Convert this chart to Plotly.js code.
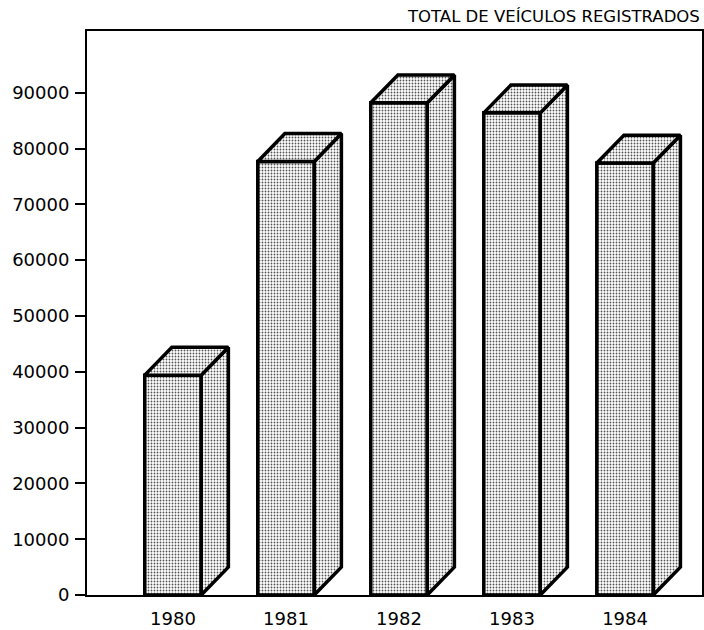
<!DOCTYPE html>
<html>
<head>
<meta charset="utf-8">
<script src="https://cdn.plot.ly/plotly-3.0.1.min.js"></script>
<style>html,body{margin:0;padding:0;background:#fff;}#chart{width:704px;height:630px;}</style>
</head>
<body>
<div id="chart"></div>
<script>
// Data
const years = ['1980', '1981', '1982', '1983', '1984'];
const vehicles = [39400, 77700, 88200, 86400, 77400];
const yTickVals = [0, 10000, 20000, 30000, 40000, 50000, 60000, 70000, 80000, 90000];
const yTickText = ['0', '10000', '20000', '30000', '40000', '50000', '60000', '70000', '80000', '90000'];
const chartTitle = 'TOTAL DE VEÍCULOS REGISTRADOS';

// Styling / 3D depth (axis units)
const barW = 0.5;
const depthX = 0.24;
const depthY = 5000;
const pos = years.map((_, i) => i);

const pattern = {shape: '.', fgcolor: '#555', bgcolor: '#fff', size: 3, solidity: 0.3};

const sideX = [], sideY = [], topX = [], topY = [];
pos.forEach((p, i) => {
  const v = vehicles[i];
  const xl = p - barW / 2, xr = p + barW / 2;
  sideX.push(xr, xr + depthX, xr + depthX, xr, xr, null);
  sideY.push(0, depthY, v + depthY, v, 0, null);
  topX.push(xl, xl + depthX, xr + depthX, xr, xl, null);
  topY.push(v, v + depthY, v + depthY, v, v, null);
});

const traces = [
  {
    type: 'bar', x: pos, y: vehicles, width: barW,
    marker: {color: '#fff', pattern: pattern, line: {color: '#000', width: 3.5}},
    hoverinfo: 'skip', showlegend: false
  },
  {
    type: 'scatter', mode: 'lines', x: sideX, y: sideY, fill: 'toself',
    fillcolor: '#fff', fillpattern: pattern,
    line: {color: '#000', width: 3.5}, connectgaps: false,
    hoverinfo: 'skip', showlegend: false
  },
  {
    type: 'scatter', mode: 'lines', x: topX, y: topY, fill: 'toself',
    fillcolor: '#fff', fillpattern: pattern,
    line: {color: '#000', width: 3.5}, connectgaps: false,
    hoverinfo: 'skip', showlegend: false
  }
];

const layout = {
  width: 704, height: 630,
  margin: {l: 87, r: 2, t: 31, b: 35, pad: 0},
  paper_bgcolor: '#fff', plot_bgcolor: '#fff',
  font: {family: 'DejaVu Sans, sans-serif', size: 18, color: '#000'},
  showlegend: false,
  xaxis: {
    range: [-0.761, 4.681], tickvals: pos, ticktext: years,
    showgrid: false, zeroline: false, showline: true, mirror: true,
    linecolor: '#000', linewidth: 2, ticks: '', ticklabelstandoff: 6,
    fixedrange: true
  },
  yaxis: {
    range: [0, 101070], tickvals: yTickVals, ticktext: yTickText,
    showgrid: false, zeroline: false, showline: true, mirror: true,
    linecolor: '#000', linewidth: 2, ticks: 'outside', ticklen: 10,
    tickwidth: 2, tickcolor: '#000', ticklabelstandoff: 2,
    fixedrange: true
  },
  annotations: [{
    text: chartTitle, xref: 'paper', yref: 'paper', x: 1, y: 1,
    xanchor: 'right', yanchor: 'bottom', yshift: 3, showarrow: false,
    font: {family: 'DejaVu Sans, sans-serif', size: 16.5, color: '#000'}
  }]
};

Plotly.newPlot('chart', traces, layout, {displayModeBar: false, staticPlot: true});
</script>
</body>
</html>
